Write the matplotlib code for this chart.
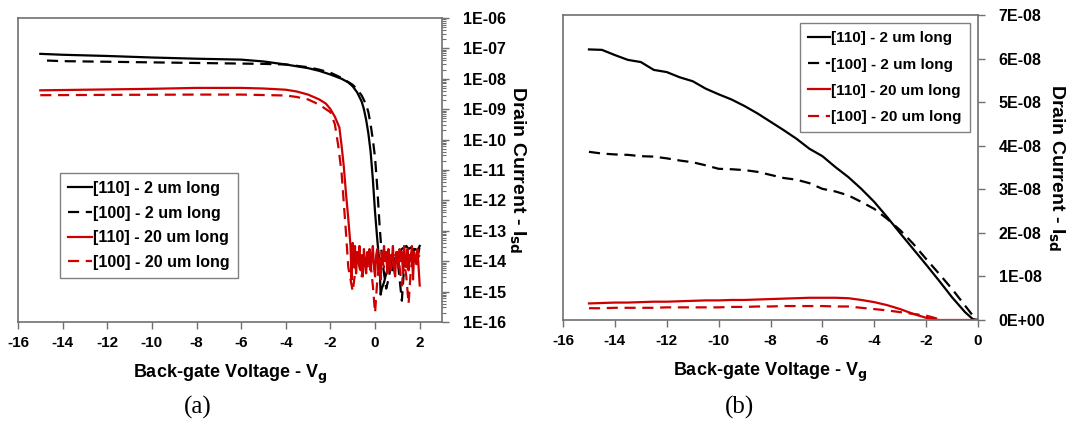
import numpy as np
import matplotlib.pyplot as plt
from matplotlib.ticker import LogLocator, NullFormatter

plt.rcParams['font.family'] = ['Liberation Sans', 'DejaVu Sans']
plt.rcParams['font.weight'] = 'bold'

labels = ['[110] - 2 um long', '[100] - 2 um long', '[110] - 20 um long', '[100] - 20 um long']

# panel (a): log10 of drain current
a_x_110_2 = [-15, -14, -12, -10, -8, -6, -5, -4, -3, -2.5, -2, -1.5, -1.2, -1.0, -0.8, -0.6, -0.5, -0.4,
             -0.3, -0.2, -0.1, 0.0, 0.1, 0.2, 0.25, 0.3, 0.4, 0.5, 0.6, 0.7, 0.8, 0.9, 1.0, 1.1, 1.2, 1.3,
             1.4, 1.5, 1.6, 1.7, 1.8, 1.9, 2.0]
a_y_110_2 = [-7.18, -7.21, -7.25, -7.30, -7.34, -7.37, -7.43, -7.53, -7.65, -7.74, -7.86, -8.0, -8.12, -8.25,
             -8.45, -8.75, -9.0, -9.35, -9.8, -10.4, -11.3, -12.4, -13.3, -14.1, -15.1, -14.9, -14.7, -14.4,
             -14.2, -14.0, -14.3, -13.9, -13.8, -13.7, -13.6, -13.55, -13.5, -13.6, -13.55, -13.6, -13.6,
             -13.65, -13.5]

a_x_100_2 = [-14.7, -14, -12, -10, -8, -6, -5, -4, -3, -2.5, -2, -1.5, -1.0, -0.8, -0.6, -0.4, -0.3, -0.2,
             -0.1, 0.0, 0.1, 0.2, 0.3, 0.4, 0.5, 0.6, 0.7, 0.8, 0.9, 1.0, 1.1, 1.2, 1.3, 1.4, 1.5, 1.6, 1.7,
             1.8, 1.9, 2.0]
a_y_100_2 = [-7.40, -7.42, -7.44, -7.46, -7.48, -7.50, -7.51, -7.53, -7.62, -7.70, -7.80, -7.97, -8.20,
             -8.35, -8.55, -8.85, -9.1, -9.5, -10.0, -10.6, -11.6, -12.8, -13.8, -14.4, -14.9, -14.6, -14.2,
             -14.4, -14.1, -13.9, -14.6, -15.3, -14.2, -13.8, -13.7, -13.8, -13.6, -13.7, -13.9, -13.5]

a_x_110_20 = [-15, -12, -10, -8, -6, -5, -4, -3.5, -3, -2.5, -2.2, -2.0, -1.8, -1.6, -1.5, -1.4, -1.3, -1.2,
              -1.1, -1.05, -1.0, -0.95, -0.9, -0.85, -0.8, -0.75, -0.7, -0.65, -0.6, -0.55, -0.5, -0.45,
              -0.4, -0.35, -0.3, -0.25, -0.2, -0.15, -0.1, -0.05, 0.0, 0.05, 0.1, 0.15, 0.2, 0.25, 0.3, 0.35,
              0.4, 0.45, 0.5, 0.55, 0.6, 0.65, 0.7, 0.75, 0.8, 0.85, 0.9, 0.95, 1.0, 1.05, 1.1, 1.15, 1.2,
              1.25, 1.3, 1.35, 1.4, 1.45, 1.5, 1.55, 1.6, 1.65, 1.7, 1.75, 1.8, 1.85, 1.9, 1.95, 2.0]
a_y_110_20 = [-8.38, -8.35, -8.33, -8.30, -8.30, -8.32, -8.36, -8.42, -8.52, -8.68, -8.82, -9.0, -9.25,
              -9.6, -10.2, -10.9, -11.8, -12.6, -13.5, -14.6, -13.4, -14.2, -13.5, -14.4, -13.7, -14.0,
              -13.5, -14.3, -13.8, -14.5, -13.6, -14.0, -14.4, -13.7, -14.1, -13.6, -14.3, -13.9, -13.5,
              -14.2, -14.5, -13.8, -13.6, -14.3, -13.9, -14.6, -13.7, -14.1, -13.5, -14.0, -13.7, -14.4,
              -13.6, -14.2, -13.8, -14.0, -13.5, -14.3, -14.5, -13.7, -13.9, -14.2, -13.6, -14.0, -13.7,
              -14.4, -13.5, -13.9, -14.2, -13.6, -14.3, -13.8, -14.0, -13.5, -14.6, -13.7, -13.9, -14.1,
              -13.6, -14.2, -14.8]

a_x_100_20 = [-15, -12, -8, -6, -4, -3.5, -3, -2.5, -2.2, -2.0, -1.8, -1.65, -1.5, -1.4, -1.3, -1.2, -1.1,
              -1.0, -0.9, -0.8, -0.7, -0.6, -0.5, -0.4, -0.3, -0.2, -0.1, 0.0, 0.1, 0.2, 0.3, 0.4, 0.5, 0.6,
              0.7, 0.8, 0.9, 1.0, 1.1, 1.2, 1.3, 1.4, 1.5, 1.6, 1.7, 1.8, 1.9, 2.0]
a_y_100_20 = [-8.54, -8.53, -8.52, -8.52, -8.55, -8.60, -8.68, -8.85, -9.0, -9.1, -9.5, -10.2, -11.1, -12.1,
              -13.1, -14.2, -14.6, -15.0, -14.4, -13.8, -14.2, -14.5, -14.0, -13.9, -14.3, -14.1, -14.8,
              -15.7, -14.6, -14.0, -13.9, -14.2, -14.0, -13.8, -14.3, -14.0, -13.8, -13.7, -14.2, -14.8,
              -14.0, -14.5, -15.4, -14.3, -13.8, -14.0, -13.9, -13.8]

# panel (b): drain current in units of 1E-08
b_x = [-15, -14.5, -14, -13.5, -13, -12.5, -12, -11.5, -11, -10.5, -10, -9.5, -9, -8.5, -8, -7.5, -7,
       -6.5, -6, -5.5, -5, -4.5, -4, -3.5, -3, -2.5, -2, -1.5, -1, -0.5, -0.2, 0]
b_110_2 = [6.21, 6.20, 6.08, 5.97, 5.92, 5.74, 5.69, 5.57, 5.48, 5.31, 5.18, 5.06, 4.91, 4.74, 4.55, 4.36,
           4.16, 3.93, 3.76, 3.51, 3.28, 3.01, 2.71, 2.36, 1.99, 1.63, 1.27, 0.90, 0.52, 0.18, 0.02, 0.0]
b_100_2 = [3.86, 3.82, 3.80, 3.79, 3.76, 3.75, 3.71, 3.66, 3.62, 3.55, 3.47, 3.46, 3.44, 3.40, 3.33, 3.26,
           3.22, 3.14, 3.01, 2.95, 2.86, 2.71, 2.55, 2.32, 2.06, 1.75, 1.40, 1.06, 0.71, 0.33, 0.10, 0.0]
b_110_20 = [0.38, 0.39, 0.40, 0.40, 0.41, 0.42, 0.42, 0.43, 0.44, 0.45, 0.45, 0.46, 0.46, 0.47, 0.48, 0.49,
            0.50, 0.51, 0.51, 0.51, 0.50, 0.46, 0.41, 0.34, 0.25, 0.14, 0.05, 0.0, 0.0, 0.0, 0.0, 0.0]
b_100_20 = [0.27, 0.27, 0.28, 0.28, 0.28, 0.28, 0.29, 0.29, 0.29, 0.29, 0.29, 0.30, 0.30, 0.31, 0.31, 0.32,
            0.32, 0.32, 0.32, 0.31, 0.31, 0.28, 0.25, 0.22, 0.18, 0.14, 0.10, 0.02, None, None, None, None]

red = '#cc0000'
dash = (0, (5, 3))
frame = '#707070'

fig = plt.figure(figsize=(10.69, 4.24), dpi=100)
ax1 = fig.add_axes([0.0168, 0.2406, 0.3967, 0.717])
ax2 = fig.add_axes([0.5267, 0.2453, 0.3882, 0.7193])

# (a)
ax1.plot(a_x_110_2, np.power(10.0, a_y_110_2), color='black', lw=1.6, label=labels[0])
ax1.plot(a_x_100_2, np.power(10.0, a_y_100_2), color='black', lw=1.6, ls=dash, label=labels[1])
ax1.plot(a_x_110_20, np.power(10.0, a_y_110_20), color=red, lw=1.6, label=labels[2])
ax1.plot(a_x_100_20, np.power(10.0, a_y_100_20), color=red, lw=1.6, ls=dash, label=labels[3])
ax1.set_yscale('log')
ax1.set_ylim(1e-16, 1e-6)
ax1.set_xlim(-16, 3)
ax1.yaxis.set_minor_locator(LogLocator(base=10, subs=np.arange(2, 10), numticks=20))
ax1.yaxis.set_minor_formatter(NullFormatter())
ax1.set_yticks([10.0 ** e for e in range(-16, -5)])
ax1.set_yticklabels(['1E-%02d' % e for e in range(16, 5, -1)])

# (b)
ax2.plot(b_x, b_110_2, color='black', lw=1.6, label=labels[0])
ax2.plot(b_x, b_100_2, color='black', lw=1.6, ls=dash, label=labels[1])
ax2.plot(b_x, b_110_20, color=red, lw=1.6, label=labels[2])
ax2.plot(b_x, [np.nan if v is None else v for v in b_100_20], color=red, lw=1.6, ls=dash, label=labels[3])
ax2.set_xlim(-16, 0)
ax2.set_ylim(0, 7)
ax2.set_yticks(range(0, 8))
ax2.set_yticklabels(['0E+00'] + ['%dE-08' % i for i in range(1, 8)])

for ax, xt in ((ax1, range(-16, 3, 2)), (ax2, range(-16, 1, 2))):
    ax.set_xticks(list(xt))
    ax.set_xticklabels([str(v) for v in xt])
    ax.yaxis.tick_right()
    ax.yaxis.set_label_position('right')
    ax.tick_params(axis='x', direction='out', length=5, width=1, color=frame, pad=5, labelsize=11)
    ax.tick_params(axis='y', which='major', direction='out', length=5, width=1, color=frame, pad=10,
                   labelsize=11.5)
    ax.tick_params(axis='y', which='minor', direction='out', length=3, width=0.8, color=frame)
    for s in ax.spines.values():
        s.set_color(frame)
        s.set_linewidth(1.2)
    ax.set_xlabel('Back-gate Voltage - V$_\\mathbf{g}$', fontsize=13, fontweight='bold', labelpad=9)
    ax.set_ylabel('Drain Current - I$_\\mathbf{sd}$', fontsize=14, fontweight='bold', rotation=270,
                  labelpad=15)

ax1.legend(loc='upper left', bbox_to_anchor=(0.099, 0.49), borderaxespad=0, handlelength=1.5,
           handletextpad=0.1, labelspacing=0.6, borderpad=0.5, fancybox=False, edgecolor='#808080',
           framealpha=1, prop={'weight': 'bold', 'size': 11.5})
ax2.legend(loc='upper right', bbox_to_anchor=(0.981, 0.974), borderaxespad=0, handlelength=1.4,
           handletextpad=0.1, labelspacing=0.8, borderpad=0.55, fancybox=False, edgecolor='#808080',
           framealpha=1, prop={'weight': 'bold', 'size': 11})

fig.text(198 / 1069, 1 - 407 / 424, '(a)', family='Liberation Serif', fontsize=18, fontweight='normal',
         ha='center', va='center')
fig.text(740 / 1069, 1 - 407 / 424, '(b)', family='Liberation Serif', fontsize=18, fontweight='normal',
         ha='center', va='center')

fig.savefig('out.png', dpi=100)
